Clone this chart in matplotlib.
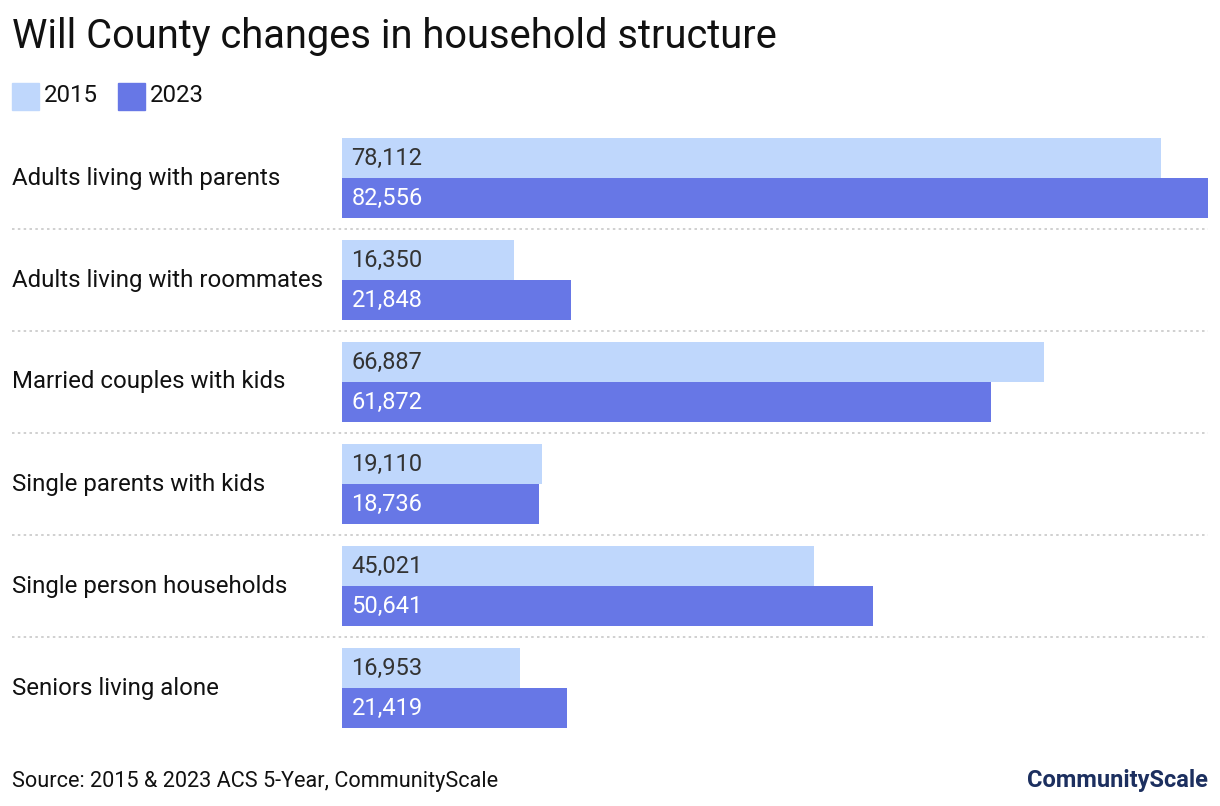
import matplotlib.pyplot as plt
from matplotlib.patches import Rectangle

plt.rcParams["font.family"] = ["Roboto", "DejaVu Sans"]

categories = [
    "Adults living with parents",
    "Adults living with roommates",
    "Married couples with kids",
    "Single parents with kids",
    "Single person households",
    "Seniors living alone",
]
values_2015 = [78112, 16350, 66887, 19110, 45021, 16953]
values_2023 = [82556, 21848, 61872, 18736, 50641, 21419]
years = ["2015", "2023"]

C_2015 = "#BFD7FC"
C_2023 = "#6777E6"
W, H = 1220, 806

fig = plt.figure(figsize=(W / 100, H / 100), dpi=100)
fig.patch.set_facecolor("white")

# axes placed in pixel terms: x 342..1208, y 138..728
ax = fig.add_axes([342 / W, 1 - 728 / H, 866 / W, 590 / H])
ax.set_xlim(0, max(values_2023 + values_2015))
ax.set_ylim(590, 0)
ax.axis("off")

pitch, bh = 102, 40
for i, cat in enumerate(categories):
    y0 = i * pitch
    ax.barh(y0 + bh / 2, values_2015[i], height=bh, color=C_2015, linewidth=0)
    ax.barh(y0 + 1.5 * bh, values_2023[i], height=bh, color=C_2023, linewidth=0)
    ax.text(900, y0 + bh / 2, f"{values_2015[i]:,}", va="center", ha="left",
            fontsize=17, color="#333333")
    ax.text(900, y0 + 1.5 * bh, f"{values_2023[i]:,}", va="center", ha="left",
            fontsize=17, color="white")
    fig.text(12 / W, 1 - (138 + y0 + bh) / H, cat, va="center", ha="left",
             fontsize=17.3, color="#111111")
    if i < len(categories) - 1:
        yl = 1 - (138 + y0 + 91) / H
        fig.add_artist(plt.Line2D([12 / W, 1208 / W], [yl, yl], color="#c8c8c8",
                                  linewidth=1.2, linestyle=(0, (1.5, 2))))

# title
fig.text(12 / W, 1 - 36 / H, "Will County changes in household structure",
         fontsize=28.7, va="center", ha="left", color="#111111")

# legend
for x0, col, lab in [(12, C_2015, years[0]), (118, C_2023, years[1])]:
    fig.add_artist(Rectangle((x0 / W, 1 - 110 / H), 27 / W, 27 / H,
                             color=col, transform=fig.transFigure))
    fig.text((x0 + 32) / W, 1 - 96 / H, lab, fontsize=17.3, va="center",
             ha="left", color="#111111")

# footer
fig.text(12 / W, 1 - 781 / H, "Source: 2015 & 2023 ACS 5-Year, CommunityScale",
         fontsize=15.6, va="center", ha="left", color="#111111")
fig.text(1208 / W, 1 - 781 / H, "CommunityScale", fontsize=17, fontweight="bold",
         va="center", ha="right", color="#1C2F5F")

fig.savefig("out.png", dpi=100, facecolor="white")
